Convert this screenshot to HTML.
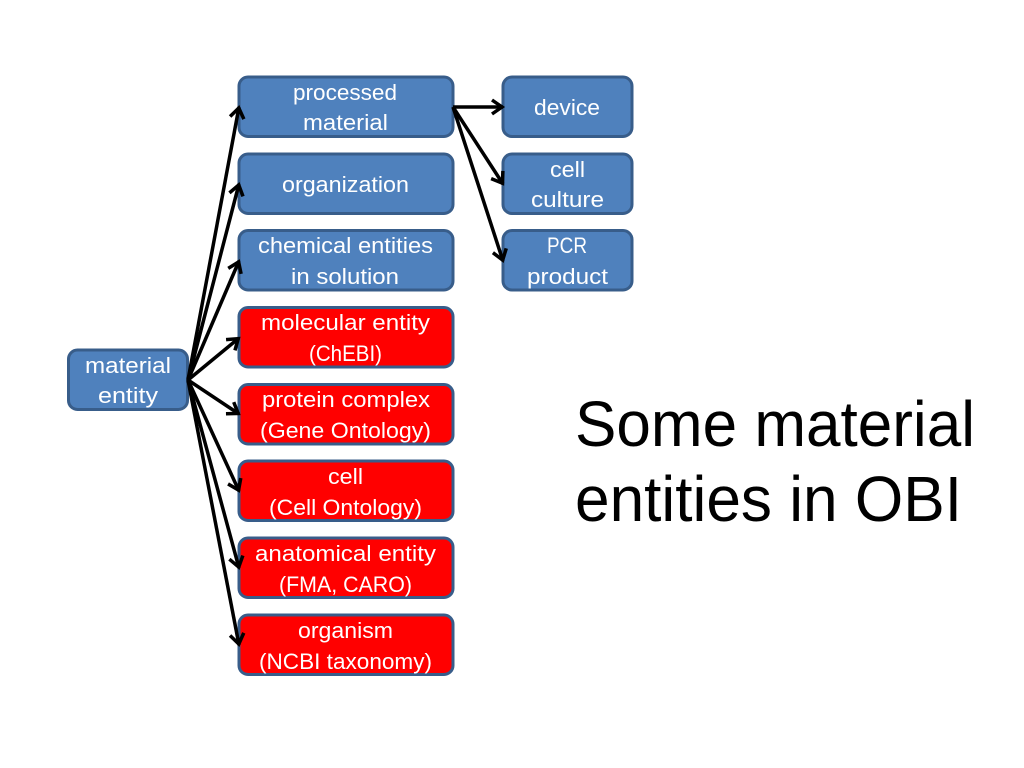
<!DOCTYPE html>
<html><head><meta charset="utf-8"><style>
html,body{margin:0;padding:0;background:#fff}
svg{display:block}
.b{fill:#4f81bd;stroke:#385d8a;stroke-width:3}
.r{fill:#ff0000;stroke:#385d8a;stroke-width:3}
text{font-family:"Liberation Sans",sans-serif;text-anchor:start}
.t text,.t{fill:#fff;font-size:22px}
.h{fill:#000;font-size:64px}
.a{stroke:#000;stroke-width:3.5;fill:none;marker-end:url(#m)}
</style></head><body>
<svg width="1024" height="768" viewBox="0 0 1024 768" xmlns="http://www.w3.org/2000/svg">
<defs><marker id="m" markerUnits="userSpaceOnUse" markerWidth="26" markerHeight="26" refX="15" refY="13" orient="auto">
<path d="M4,6 L14,13 L4,20" fill="none" stroke="#000" stroke-width="3.5"/></marker></defs>
<rect class="b" x="68.5" y="350" width="119" height="59.5" rx="9"/>
<rect class="b" x="239" y="77" width="214" height="59.5" rx="9"/>
<rect class="b" x="239" y="154" width="214" height="59.5" rx="9"/>
<rect class="b" x="239" y="230.5" width="214" height="59.5" rx="9"/>
<rect class="r" x="239" y="307.5" width="214" height="59.5" rx="9"/>
<rect class="r" x="239" y="384.5" width="214" height="59.5" rx="9"/>
<rect class="r" x="239" y="461" width="214" height="59.5" rx="9"/>
<rect class="r" x="239" y="538" width="214" height="59.5" rx="9"/>
<rect class="r" x="239" y="615" width="214" height="59.5" rx="9"/>
<rect class="b" x="503" y="77" width="129" height="59.5" rx="9"/>
<rect class="b" x="503" y="154" width="129" height="59.5" rx="9"/>
<rect class="b" x="503" y="230.5" width="129" height="59.5" rx="9"/>
<line class="a" x1="188" y1="380" x2="239" y2="107"/>
<line class="a" x1="188" y1="380" x2="239" y2="184"/>
<line class="a" x1="188" y1="380" x2="239" y2="261"/>
<line class="a" x1="188" y1="380" x2="239" y2="338"/>
<line class="a" x1="188" y1="380" x2="239" y2="414"/>
<line class="a" x1="188" y1="380" x2="239" y2="491"/>
<line class="a" x1="188" y1="380" x2="239" y2="568"/>
<line class="a" x1="188" y1="380" x2="239" y2="645"/>
<line class="a" x1="453" y1="107" x2="503" y2="107"/>
<line class="a" x1="453" y1="107" x2="503" y2="184"/>
<line class="a" x1="453" y1="107" x2="503" y2="261"/>
<g class="t">
<text x="293" y="100" textLength="104" lengthAdjust="spacingAndGlyphs">processed</text>
<text x="303" y="130" textLength="85" lengthAdjust="spacingAndGlyphs">material</text>
<text x="282" y="192" textLength="127" lengthAdjust="spacingAndGlyphs">organization</text>
<text x="258" y="253" textLength="175" lengthAdjust="spacingAndGlyphs">chemical entities</text>
<text x="291" y="284" textLength="108" lengthAdjust="spacingAndGlyphs">in solution</text>
<text x="261" y="330" textLength="169" lengthAdjust="spacingAndGlyphs">molecular entity</text>
<text x="309" y="361" textLength="73" lengthAdjust="spacingAndGlyphs">(ChEBI)</text>
<text x="262" y="407" textLength="168" lengthAdjust="spacingAndGlyphs">protein complex</text>
<text x="260" y="438" textLength="171" lengthAdjust="spacingAndGlyphs">(Gene Ontology)</text>
<text x="328" y="484" textLength="35" lengthAdjust="spacingAndGlyphs">cell</text>
<text x="269" y="515" textLength="153" lengthAdjust="spacingAndGlyphs">(Cell Ontology)</text>
<text x="255" y="561" textLength="181" lengthAdjust="spacingAndGlyphs">anatomical entity</text>
<text x="279" y="592" textLength="133" lengthAdjust="spacingAndGlyphs">(FMA, CARO)</text>
<text x="298" y="638" textLength="95" lengthAdjust="spacingAndGlyphs">organism</text>
<text x="259" y="669" textLength="173" lengthAdjust="spacingAndGlyphs">(NCBI taxonomy)</text>
<text x="85" y="373" textLength="86" lengthAdjust="spacingAndGlyphs">material</text>
<text x="98" y="403" textLength="60" lengthAdjust="spacingAndGlyphs">entity</text>
<text x="534" y="115" textLength="66" lengthAdjust="spacingAndGlyphs">device</text>
<text x="550" y="177" textLength="35" lengthAdjust="spacingAndGlyphs">cell</text>
<text x="531" y="207" textLength="73" lengthAdjust="spacingAndGlyphs">culture</text>
<text x="547" y="253" textLength="40" lengthAdjust="spacingAndGlyphs">PCR</text>
<text x="527" y="284" textLength="81" lengthAdjust="spacingAndGlyphs">product</text>
</g>
<text class="h" x="575" y="446" textLength="400" lengthAdjust="spacingAndGlyphs">Some material</text>
<text class="h" x="575" y="521" textLength="387" lengthAdjust="spacingAndGlyphs">entities in OBI</text>
</svg>
</body></html>
